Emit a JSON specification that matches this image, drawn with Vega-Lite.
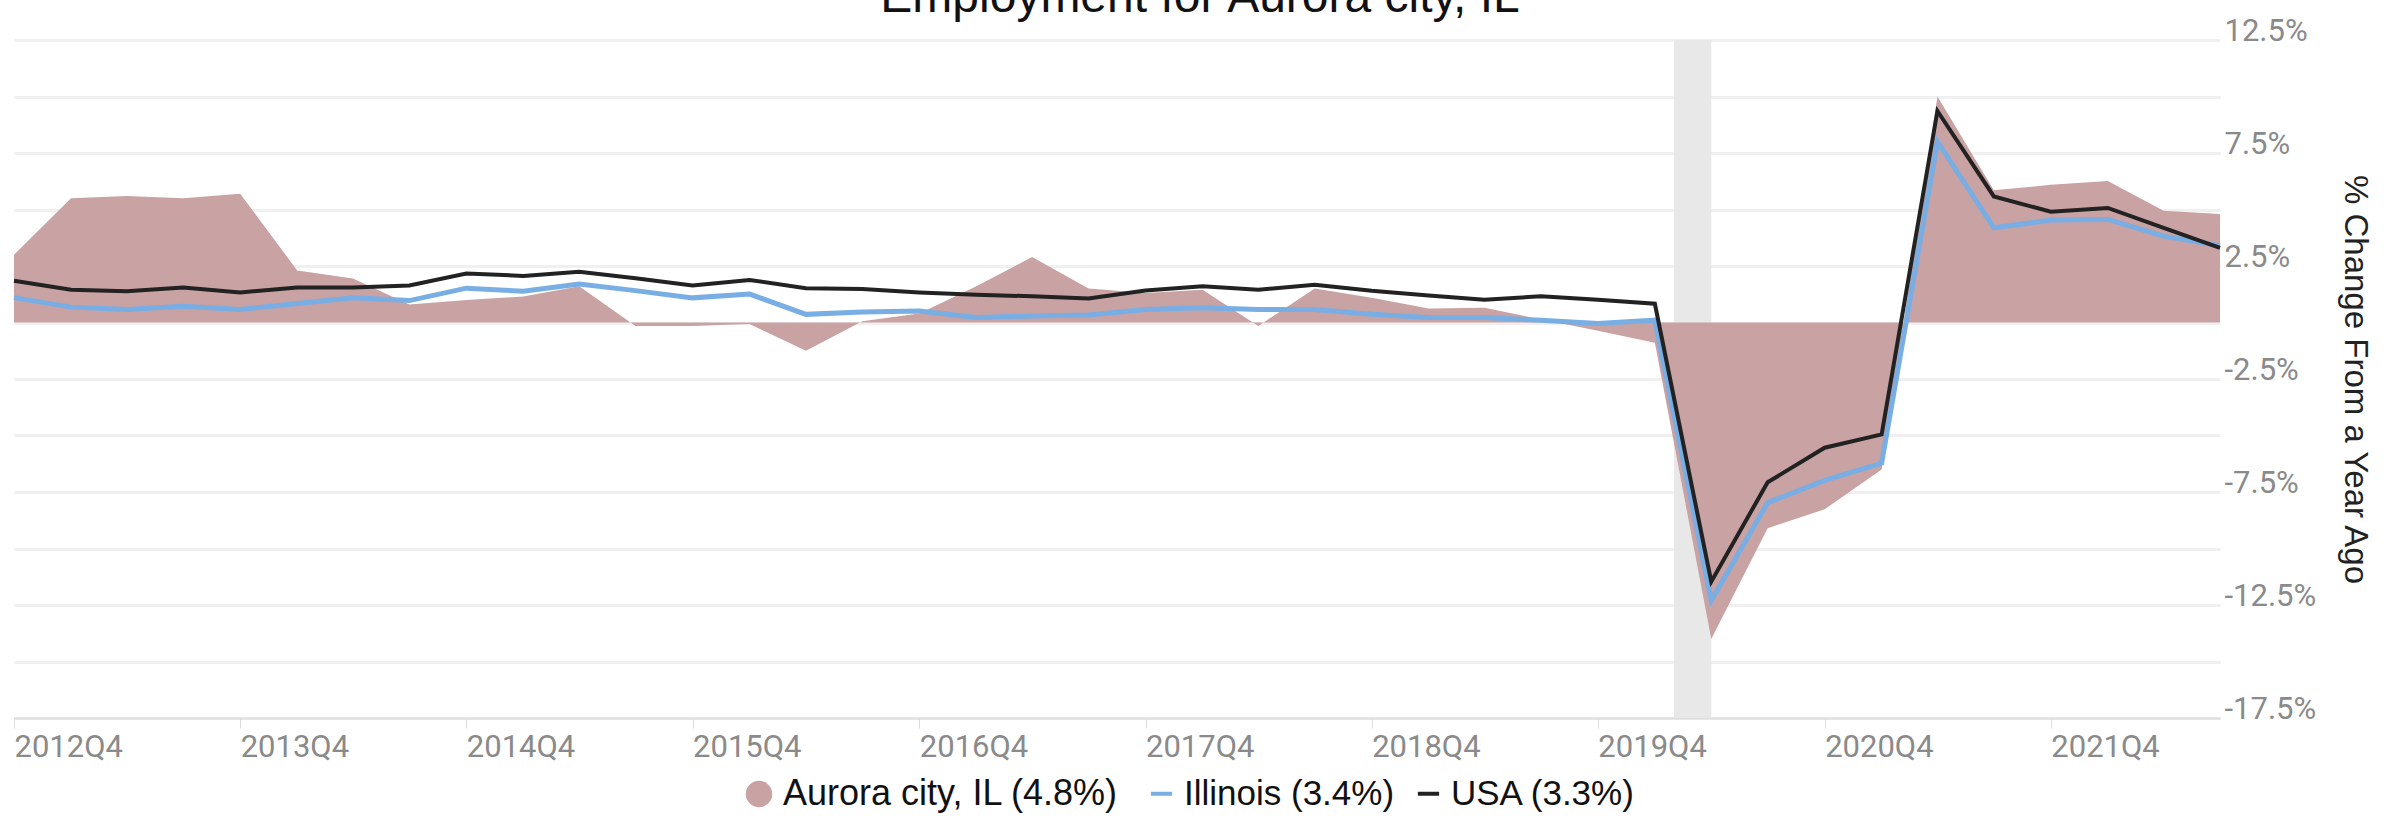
{
  "$schema": "https://vega.github.io/schema/vega-lite/v6.json",
  "width": 2206,
  "height": 678,
  "autosize": {"type": "none"},
  "padding": {"left": 14, "top": 40, "right": 176, "bottom": 101},
  "background": "white",
  "config": {"view": {"stroke": null}, "font": "Liberation Sans"},
  "title": {
    "text": "Employment for Aurora city, IL",
    "font": "Liberation Sans",
    "fontSize": 48,
    "fontWeight": "normal",
    "color": "#111111",
    "anchor": "middle",
    "baseline": "alphabetic",
    "offset": -45,
    "dx": 83
  },
  "datasets": {
    "rec": [{"start": "2020-02-01", "end": "2020-04-01"}],
    "emp": [
      {"date": "2012-10-01", "series": "Aurora city, IL (4.8%)", "value": 3.0},
      {"date": "2013-01-01", "series": "Aurora city, IL (4.8%)", "value": 5.5},
      {"date": "2013-04-01", "series": "Aurora city, IL (4.8%)", "value": 5.6},
      {"date": "2013-07-01", "series": "Aurora city, IL (4.8%)", "value": 5.5},
      {"date": "2013-10-01", "series": "Aurora city, IL (4.8%)", "value": 5.7},
      {"date": "2014-01-01", "series": "Aurora city, IL (4.8%)", "value": 2.3},
      {"date": "2014-04-01", "series": "Aurora city, IL (4.8%)", "value": 1.95},
      {"date": "2014-07-01", "series": "Aurora city, IL (4.8%)", "value": 0.8},
      {"date": "2014-10-01", "series": "Aurora city, IL (4.8%)", "value": 1.0},
      {"date": "2015-01-01", "series": "Aurora city, IL (4.8%)", "value": 1.15},
      {"date": "2015-04-01", "series": "Aurora city, IL (4.8%)", "value": 1.6},
      {"date": "2015-07-01", "series": "Aurora city, IL (4.8%)", "value": -0.15},
      {"date": "2015-10-01", "series": "Aurora city, IL (4.8%)", "value": -0.15},
      {"date": "2016-01-01", "series": "Aurora city, IL (4.8%)", "value": -0.07},
      {"date": "2016-04-01", "series": "Aurora city, IL (4.8%)", "value": -1.25},
      {"date": "2016-07-01", "series": "Aurora city, IL (4.8%)", "value": 0.05},
      {"date": "2016-10-01", "series": "Aurora city, IL (4.8%)", "value": 0.4},
      {"date": "2017-01-01", "series": "Aurora city, IL (4.8%)", "value": 1.6},
      {"date": "2017-04-01", "series": "Aurora city, IL (4.8%)", "value": 2.9},
      {"date": "2017-07-01", "series": "Aurora city, IL (4.8%)", "value": 1.5},
      {"date": "2017-10-01", "series": "Aurora city, IL (4.8%)", "value": 1.3},
      {"date": "2018-01-01", "series": "Aurora city, IL (4.8%)", "value": 1.45},
      {"date": "2018-04-01", "series": "Aurora city, IL (4.8%)", "value": -0.15},
      {"date": "2018-07-01", "series": "Aurora city, IL (4.8%)", "value": 1.5},
      {"date": "2018-10-01", "series": "Aurora city, IL (4.8%)", "value": 1.09},
      {"date": "2019-01-01", "series": "Aurora city, IL (4.8%)", "value": 0.62},
      {"date": "2019-04-01", "series": "Aurora city, IL (4.8%)", "value": 0.65},
      {"date": "2019-07-01", "series": "Aurora city, IL (4.8%)", "value": 0.14},
      {"date": "2019-10-01", "series": "Aurora city, IL (4.8%)", "value": -0.36},
      {"date": "2020-01-01", "series": "Aurora city, IL (4.8%)", "value": -0.9},
      {"date": "2020-04-01", "series": "Aurora city, IL (4.8%)", "value": -14.0},
      {"date": "2020-07-01", "series": "Aurora city, IL (4.8%)", "value": -9.1},
      {"date": "2020-10-01", "series": "Aurora city, IL (4.8%)", "value": -8.26},
      {"date": "2021-01-01", "series": "Aurora city, IL (4.8%)", "value": -6.5},
      {"date": "2021-04-01", "series": "Aurora city, IL (4.8%)", "value": 10.0},
      {"date": "2021-07-01", "series": "Aurora city, IL (4.8%)", "value": 5.85},
      {"date": "2021-10-01", "series": "Aurora city, IL (4.8%)", "value": 6.09},
      {"date": "2022-01-01", "series": "Aurora city, IL (4.8%)", "value": 6.26},
      {"date": "2022-04-01", "series": "Aurora city, IL (4.8%)", "value": 4.95},
      {"date": "2022-07-01", "series": "Aurora city, IL (4.8%)", "value": 4.8},

      {"date": "2012-10-01", "series": "Illinois (3.4%)", "value": 1.1},
      {"date": "2013-01-01", "series": "Illinois (3.4%)", "value": 0.68},
      {"date": "2013-04-01", "series": "Illinois (3.4%)", "value": 0.58},
      {"date": "2013-07-01", "series": "Illinois (3.4%)", "value": 0.72},
      {"date": "2013-10-01", "series": "Illinois (3.4%)", "value": 0.58},
      {"date": "2014-01-01", "series": "Illinois (3.4%)", "value": 0.84},
      {"date": "2014-04-01", "series": "Illinois (3.4%)", "value": 1.09},
      {"date": "2014-07-01", "series": "Illinois (3.4%)", "value": 0.97},
      {"date": "2014-10-01", "series": "Illinois (3.4%)", "value": 1.52},
      {"date": "2015-01-01", "series": "Illinois (3.4%)", "value": 1.38},
      {"date": "2015-04-01", "series": "Illinois (3.4%)", "value": 1.7},
      {"date": "2015-07-01", "series": "Illinois (3.4%)", "value": 1.41},
      {"date": "2015-10-01", "series": "Illinois (3.4%)", "value": 1.09},
      {"date": "2016-01-01", "series": "Illinois (3.4%)", "value": 1.26},
      {"date": "2016-04-01", "series": "Illinois (3.4%)", "value": 0.36},
      {"date": "2016-07-01", "series": "Illinois (3.4%)", "value": 0.46},
      {"date": "2016-10-01", "series": "Illinois (3.4%)", "value": 0.51},
      {"date": "2017-01-01", "series": "Illinois (3.4%)", "value": 0.22},
      {"date": "2017-04-01", "series": "Illinois (3.4%)", "value": 0.29},
      {"date": "2017-07-01", "series": "Illinois (3.4%)", "value": 0.33},
      {"date": "2017-10-01", "series": "Illinois (3.4%)", "value": 0.58},
      {"date": "2018-01-01", "series": "Illinois (3.4%)", "value": 0.65},
      {"date": "2018-04-01", "series": "Illinois (3.4%)", "value": 0.58},
      {"date": "2018-07-01", "series": "Illinois (3.4%)", "value": 0.58},
      {"date": "2018-10-01", "series": "Illinois (3.4%)", "value": 0.36},
      {"date": "2019-01-01", "series": "Illinois (3.4%)", "value": 0.22},
      {"date": "2019-04-01", "series": "Illinois (3.4%)", "value": 0.22},
      {"date": "2019-07-01", "series": "Illinois (3.4%)", "value": 0.1},
      {"date": "2019-10-01", "series": "Illinois (3.4%)", "value": -0.04},
      {"date": "2020-01-01", "series": "Illinois (3.4%)", "value": 0.1},
      {"date": "2020-04-01", "series": "Illinois (3.4%)", "value": -12.3},
      {"date": "2020-07-01", "series": "Illinois (3.4%)", "value": -7.97},
      {"date": "2020-10-01", "series": "Illinois (3.4%)", "value": -6.99},
      {"date": "2021-01-01", "series": "Illinois (3.4%)", "value": -6.22},
      {"date": "2021-04-01", "series": "Illinois (3.4%)", "value": 8.0},
      {"date": "2021-07-01", "series": "Illinois (3.4%)", "value": 4.19},
      {"date": "2021-10-01", "series": "Illinois (3.4%)", "value": 4.53},
      {"date": "2022-01-01", "series": "Illinois (3.4%)", "value": 4.56},
      {"date": "2022-04-01", "series": "Illinois (3.4%)", "value": 3.82},
      {"date": "2022-07-01", "series": "Illinois (3.4%)", "value": 3.4},

      {"date": "2012-10-01", "series": "USA (3.3%)", "value": 1.85},
      {"date": "2013-01-01", "series": "USA (3.3%)", "value": 1.45},
      {"date": "2013-04-01", "series": "USA (3.3%)", "value": 1.38},
      {"date": "2013-07-01", "series": "USA (3.3%)", "value": 1.55},
      {"date": "2013-10-01", "series": "USA (3.3%)", "value": 1.33},
      {"date": "2014-01-01", "series": "USA (3.3%)", "value": 1.55},
      {"date": "2014-04-01", "series": "USA (3.3%)", "value": 1.55},
      {"date": "2014-07-01", "series": "USA (3.3%)", "value": 1.64},
      {"date": "2014-10-01", "series": "USA (3.3%)", "value": 2.17},
      {"date": "2015-01-01", "series": "USA (3.3%)", "value": 2.06},
      {"date": "2015-04-01", "series": "USA (3.3%)", "value": 2.25},
      {"date": "2015-07-01", "series": "USA (3.3%)", "value": 1.96},
      {"date": "2015-10-01", "series": "USA (3.3%)", "value": 1.64},
      {"date": "2016-01-01", "series": "USA (3.3%)", "value": 1.88},
      {"date": "2016-04-01", "series": "USA (3.3%)", "value": 1.52},
      {"date": "2016-07-01", "series": "USA (3.3%)", "value": 1.48},
      {"date": "2016-10-01", "series": "USA (3.3%)", "value": 1.33},
      {"date": "2017-01-01", "series": "USA (3.3%)", "value": 1.23},
      {"date": "2017-04-01", "series": "USA (3.3%)", "value": 1.16},
      {"date": "2017-07-01", "series": "USA (3.3%)", "value": 1.06},
      {"date": "2017-10-01", "series": "USA (3.3%)", "value": 1.42},
      {"date": "2018-01-01", "series": "USA (3.3%)", "value": 1.6},
      {"date": "2018-04-01", "series": "USA (3.3%)", "value": 1.45},
      {"date": "2018-07-01", "series": "USA (3.3%)", "value": 1.67},
      {"date": "2018-10-01", "series": "USA (3.3%)", "value": 1.4},
      {"date": "2019-01-01", "series": "USA (3.3%)", "value": 1.19},
      {"date": "2019-04-01", "series": "USA (3.3%)", "value": 1.01},
      {"date": "2019-07-01", "series": "USA (3.3%)", "value": 1.16},
      {"date": "2019-10-01", "series": "USA (3.3%)", "value": 1.01},
      {"date": "2020-01-01", "series": "USA (3.3%)", "value": 0.83},
      {"date": "2020-04-01", "series": "USA (3.3%)", "value": -11.47},
      {"date": "2020-07-01", "series": "USA (3.3%)", "value": -7.07},
      {"date": "2020-10-01", "series": "USA (3.3%)", "value": -5.54},
      {"date": "2021-01-01", "series": "USA (3.3%)", "value": -4.95},
      {"date": "2021-04-01", "series": "USA (3.3%)", "value": 9.36},
      {"date": "2021-07-01", "series": "USA (3.3%)", "value": 5.58},
      {"date": "2021-10-01", "series": "USA (3.3%)", "value": 4.9},
      {"date": "2022-01-01", "series": "USA (3.3%)", "value": 5.07},
      {"date": "2022-04-01", "series": "USA (3.3%)", "value": 4.19},
      {"date": "2022-07-01", "series": "USA (3.3%)", "value": 3.3}
    ]
  },
  "layer": [
    {
      "data": {"name": "rec"},
      "mark": {"type": "rect", "color": "#e8e8e8"},
      "encoding": {
        "x": {
          "field": "start",
          "type": "temporal",
          "scale": {
            "type": "utc",
            "domain": [
              {"year": 2012, "month": 10, "date": 1, "utc": true},
              {"year": 2022, "month": 7, "date": 1, "utc": true}
            ],
            "nice": false
          },
          "axis": {
            "title": null,
            "grid": false,
            "values": [
              {"year": 2012, "month": 10, "date": 1, "utc": true},
              {"year": 2013, "month": 10, "date": 1, "utc": true},
              {"year": 2014, "month": 10, "date": 1, "utc": true},
              {"year": 2015, "month": 10, "date": 1, "utc": true},
              {"year": 2016, "month": 10, "date": 1, "utc": true},
              {"year": 2017, "month": 10, "date": 1, "utc": true},
              {"year": 2018, "month": 10, "date": 1, "utc": true},
              {"year": 2019, "month": 10, "date": 1, "utc": true},
              {"year": 2020, "month": 10, "date": 1, "utc": true},
              {"year": 2021, "month": 10, "date": 1, "utc": true}
            ],
            "labelExpr": "utcFormat(datum.value, '%Y') + 'Q' + (floor(utcmonth(datum.value) / 3) + 1)",
            "labelAlign": "left",
            "labelBaseline": "top",
            "labelFlush": false,
            "labelOverlap": false,
            "labelFont": "Roboto",
            "labelFontSize": 31,
            "labelColor": "#8a8a8a",
            "labelPadding": 4,
            "domainColor": "#dddddd",
            "domainWidth": 2,
            "tickColor": "#dddddd",
            "tickWidth": 1,
            "tickSize": 10
          }
        },
        "x2": {"field": "end"}
      }
    },
    {
      "data": {"name": "emp"},
      "transform": [{"filter": "datum.series === 'Aurora city, IL (4.8%)'"}],
      "mark": {"type": "area", "opacity": 1},
      "encoding": {
        "x": {"field": "date", "type": "temporal"},
        "y": {
          "field": "value",
          "type": "quantitative",
          "scale": {"domain": [-17.5, 12.5], "nice": false, "zero": false},
          "axis": {
            "orient": "right",
            "title": "% Change From a Year Ago",
            "titleFont": "Liberation Sans",
            "titleFontSize": 33,
            "titleFontWeight": "normal",
            "titleColor": "#222222",
            "titlePadding": 22,
            "values": [-17.5, -15, -12.5, -10, -7.5, -5, -2.5, 0, 2.5, 5, 7.5, 10, 12.5],
            "labelExpr": "(datum.value / 2.5) % 2 != 0 ? (datum.value < 0 ? '-' : '') + format(abs(datum.value), '.1f') + '%' : ''",
            "labelFont": "Roboto",
            "labelFontSize": 31,
            "labelColor": "#8a8a8a",
            "labelBaseline": "alphabetic",
            "labelPadding": 4,
            "labelOverlap": false,
            "labelFlush": false,
            "ticks": false,
            "domain": false,
            "grid": true,
            "gridColor": "#f0f0f0",
            "gridWidth": 3
          }
        },
        "y2": {"datum": 0},
        "fill": {
          "field": "series",
          "type": "nominal",
          "scale": {
            "domain": ["Aurora city, IL (4.8%)"],
            "range": ["#c9a2a3"]
          },
          "legend": {
            "orient": "none",
            "legendX": 727,
            "legendY": 736,
            "direction": "horizontal",
            "title": null,
            "symbolType": "circle",
            "labelFont": "Liberation Sans",
            "labelFontSize": 36,
            "labelColor": "#111111",
            "labelLimit": 1000,
            "labelOffset": 6,
            "symbolSize": 700,
            "symbolOpacity": 1,
            "symbolStrokeWidth": 0
          }
        }
      }
    },
    {
      "data": {"name": "emp"},
      "transform": [{"filter": "datum.series === 'Illinois (3.4%)'"}],
      "mark": {"type": "line", "strokeWidth": 5},
      "encoding": {
        "x": {"field": "date", "type": "temporal"},
        "y": {"field": "value", "type": "quantitative"},
        "stroke": {
          "field": "series",
          "type": "nominal",
          "scale": {
            "domain": ["Illinois (3.4%)", "USA (3.3%)"],
            "range": ["#78aee4", "#222222"]
          },
          "legend": {
            "orient": "none",
            "legendX": 1130,
            "legendY": 736,
            "direction": "horizontal",
            "title": null,
            "symbolType": "stroke",
            "labelFont": "Liberation Sans",
            "labelFontSize": 35,
            "labelColor": "#111111",
            "labelLimit": 1000,
            "labelOffset": 5,
            "columnPadding": 14,
            "symbolSize": 450,
            "symbolStrokeWidth": 4
          }
        }
      }
    },
    {
      "data": {"name": "emp"},
      "transform": [{"filter": "datum.series === 'USA (3.3%)'"}],
      "mark": {"type": "line", "strokeWidth": 4},
      "encoding": {
        "x": {"field": "date", "type": "temporal"},
        "y": {"field": "value", "type": "quantitative"},
        "stroke": {"field": "series", "type": "nominal"}
      }
    }
  ]
}
